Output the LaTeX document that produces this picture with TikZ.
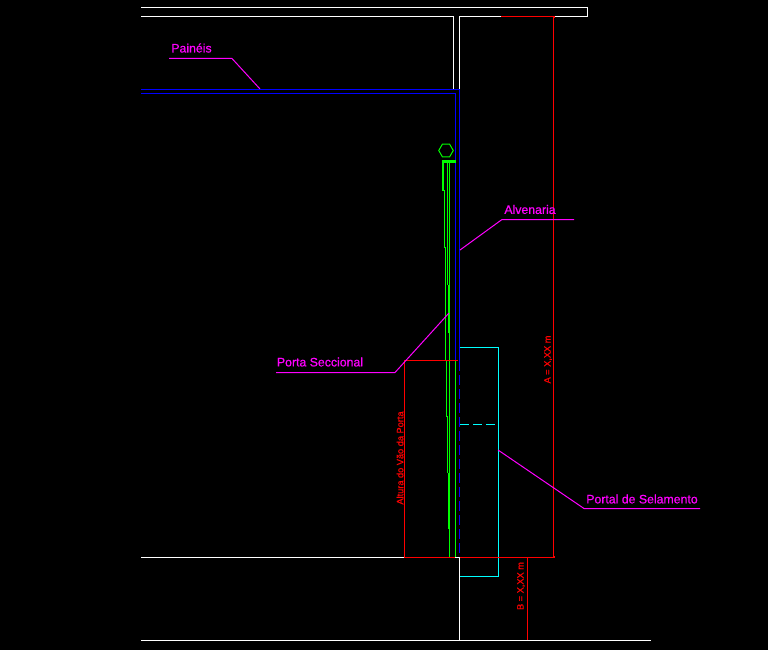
\documentclass[tikz,border=0pt]{standalone}
\usepackage{fontspec}
\setmainfont{Liberation Sans}
\newfontfamily\calloutfont[FakeBold=0.6]{Liberation Sans}
\usetikzlibrary{shapes.geometric}
\definecolor{cadred}{RGB}{255,0,0}
\definecolor{cadgreen}{RGB}{0,255,0}
\definecolor{cadblue}{RGB}{0,0,255}
\definecolor{cadcyan}{RGB}{0,255,255}
\definecolor{cadmagenta}{RGB}{255,0,255}

\begin{document}
\begin{tikzpicture}[x=1pt, y=-1pt]
	\tikzset{
		wall/.style={
			white,
			line width=1pt
		},
		hidden/.style={
			cadblue,
			line width=1pt
		},
		door/.style={
			cadgreen,
			line width=1pt
		},
		doorthick/.style={
			cadgreen,
			line width=2pt
		},
		seal/.style={
			cadcyan,
			line width=1pt
		},
		dim/.style={
			cadred,
			line width=1pt
		},
		leader/.style={
			cadmagenta,
			line width=1pt
		},
		callout/.style={
			text=cadmagenta,
			font=\calloutfont\fontsize{12.3}{12.3}\selectfont,
			inner sep=0pt
		},
		dimtext/.style={
			text=cadred,
			rotate=90,
			font=\calloutfont\fontsize{9.2}{9.2}\selectfont,
			inner sep=0pt
		}
	}

	\fill[black] (0, 0) rectangle (768, 650);
	\useasboundingbox (0, 0) rectangle (768, 650);

	% slab and wall
	\draw[wall] (141, 7.5) -- (587.5, 7.5) -- (587.5, 16.5) -- (553, 16.5);
	\draw[wall] (141, 16.5) -- (453.5, 16.5) -- (453.5, 89);
	\draw[wall] (501, 16.5) -- (459.5, 16.5) -- (459.5, 89);
	\draw[wall] (141, 557.5) -- (459.5, 557.5) -- (459.5, 640.5);
	\draw[wall] (141, 640.5) -- (651, 640.5);

	% panels, masonry
	\draw[hidden] (141, 89.5) -- (459.5, 89.5) -- (459.5, 360.5);
	\draw[hidden] (141, 93.5) -- (455.5, 93.5) -- (455.5, 360.5);
	\draw[hidden, dash pattern=on 10pt off 4pt] (459.5, 361) -- (459.5, 557);

	% door
	\node[draw=cadgreen, line width=1pt, regular polygon, regular polygon sides=6,
		minimum size=14.5pt, inner sep=0pt] (roller) at (446, 150.5) {};
	\draw[doorthick, line width=3pt] (442, 161.5) -- (456, 161.5);
	\draw[door, line width=1.5pt] (443, 161) -- (443, 190.5) -- (444.5, 190.5) -- (444.5, 247.5)
		-- (445.5, 247.5) -- (445.5, 303.5) -- (445.5, 360.5)
		-- (446.5, 360.5) -- (446.5, 416.5) -- (447.5, 416.5) -- (447.5, 473);
	\draw[door] (447.5, 161) -- (447.5, 285);
	\draw[doorthick] (449, 285) -- (449, 333);
	\draw[door] (449.5, 161) -- (449.5, 557);
	\draw[doorthick] (449, 473) -- (449, 528.5);
	\draw[door] (455.5, 361) -- (455.5, 557);

	% sealing portal
	\draw[seal] (459.5, 347.5) -- (498.5, 347.5) -- (498.5, 576.5) -- (459.5, 576.5);
	\draw[seal, dash pattern=on 9pt off 4pt] (460, 424.5) -- (498, 424.5);

	% dimensions
	\draw[dim] (501, 16.5) -- (553.5, 16.5) -- (553.5, 557.5) -- (460, 557.5);
	\draw[dim] (404.5, 557.5) -- (404.5, 360.5) -- (458, 360.5);
	\draw[dim] (404.5, 557.5) -- (455, 557.5);
	\draw[dim] (527.5, 557.5) -- (527.5, 640);
	\fill[cadred] (553, 16) rectangle (555, 18.5);
	\fill[cadred] (553, 556) rectangle (555, 558);
	\node[dimtext] (altura) at (400, 458) {Altura do Vão da Porta};
	\node[dimtext] (cotaA) at (548, 359.5) {A = X,XX m};
	\node[dimtext] (cotaB) at (521, 586) {B = X,XX m};

	% callouts
	\node[callout] (paineis) at (191.5, 48) {Painéis};
	\node[callout] (alvenaria) at (530, 209.5) {Alvenaria};
	\node[callout] (porta) at (320, 362) {Porta Seccional};
	\node[callout] (portal) at (642, 499) {Portal de Selamento};

	\coordinate (p1) at (169, 58.5);
	\coordinate (p2) at (232, 58.5);
	\coordinate (p3) at (260, 89);
	\coordinate (a1) at (574, 219.5);
	\coordinate (a2) at (502, 219.5);
	\coordinate (a3) at (460, 250);
	\coordinate (s1) at (276, 372.5);
	\coordinate (s2) at (395, 372.5);
	\coordinate (s3) at (449, 313);
	\coordinate (l1) at (700, 508.5);
	\coordinate (l2) at (584, 508.5);
	\coordinate (l3) at (498, 450);

	\draw[leader] (p1) -- (p2) -- (p3);
	\draw[leader] (a1) -- (a2) -- (a3);
	\draw[leader] (s1) -- (s2) -- (s3);
	\draw[leader] (l1) -- (l2) -- (l3);
\end{tikzpicture}
\end{document}
